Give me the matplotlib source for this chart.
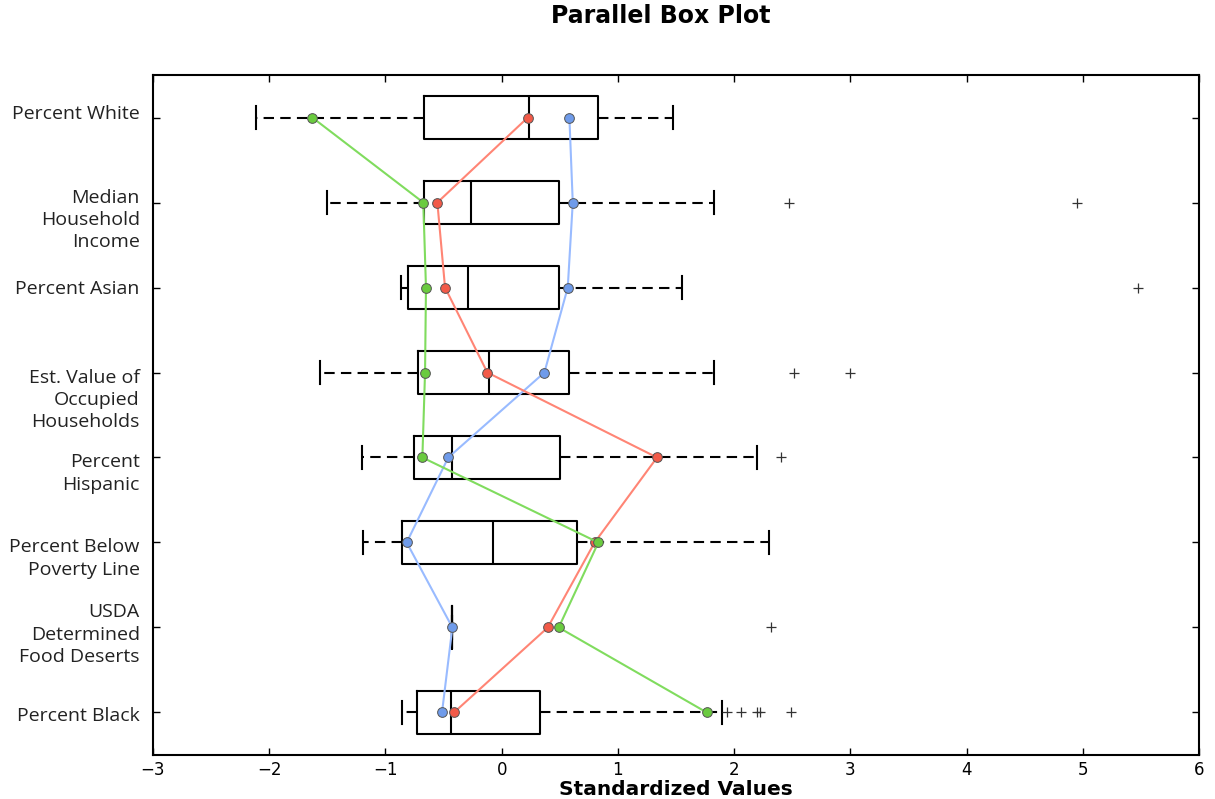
import matplotlib
matplotlib.use("Agg")
import matplotlib.pyplot as plt

# categories listed top to bottom
categories = [
    "Percent White",
    "Median\nHousehold\nIncome",
    "Percent Asian",
    "Est. Value of\nOccupied\nHouseholds",
    "Percent\nHispanic",
    "Percent Below\nPoverty Line",
    "USDA\nDetermined\nFood Deserts",
    "Percent Black",
]

# box statistics (standardized values)
whislo = [-2.116, -1.505, -0.868, -1.563, -1.199, -1.190, -0.424, -0.854]
q1 = [-0.668, -0.668, -0.803, -0.722, -0.751, -0.860, -0.424, -0.725]
med = [0.238, -0.266, -0.292, -0.106, -0.424, -0.071, -0.424, -0.435]
q3 = [0.827, 0.497, 0.491, 0.577, 0.503, 0.646, -0.424, 0.330]
whishi = [1.475, 1.828, 1.552, 1.828, 2.195, 2.300, -0.424, 1.894]
fliers = [
    [],
    [2.473, 4.950],
    [5.477],
    [2.516, 3.000],
    [2.400],
    [],
    [2.316],
    [1.937, 2.060, 2.200, 2.225, 2.490],
]

# three highlighted cases
blue_vals = [0.583, 0.612, 0.569, 0.368, -0.459, -0.817, -0.424, -0.513]
red_vals = [0.225, -0.553, -0.487, -0.123, 1.337, 0.800, 0.397, -0.410]
green_vals = [-1.629, -0.674, -0.651, -0.659, -0.682, 0.832, 0.491, 1.765]

# vertical nudge of each y label in pixels (label placement in the source is uneven)
label_dy = [-4, -5, 1, 5, 5, 5, -15, 4]

positions = list(range(1, len(categories) + 1))

fig = plt.figure(figsize=(12.15, 7.99), dpi=100)
ax = fig.add_axes([0.1259, 0.0551, 0.8609, 0.851])

stats = []
for i in range(len(categories)):
    stats.append(dict(whislo=whislo[i], q1=q1[i], med=med[i], q3=q3[i],
                      whishi=whishi[i], fliers=fliers[i]))

ax.bxp(stats, positions=positions, vert=False, widths=0.5, capwidths=0.26,
       showfliers=True, patch_artist=False,
       boxprops=dict(color="black", linewidth=1.5),
       medianprops=dict(color="black", linewidth=1.5),
       whiskerprops=dict(color="black", linewidth=1.5, linestyle=(0, (5, 3))),
       capprops=dict(color="black", linewidth=1.5),
       flierprops=dict(marker="+", markeredgecolor="#333333", markersize=7,
                       markeredgewidth=0.9, linestyle="none"),
       zorder=2)

series = [
    (blue_vals, "#99bbff", "#6f9bea"),
    (red_vals, "#ff8575", "#f25a48"),
    (green_vals, "#80dc5e", "#6acb3f"),
]
for vals, lc, mc in series:
    ax.plot(vals, positions, color=lc, linewidth=1.5, marker="o",
            markersize=7, markerfacecolor=mc, markeredgecolor="#555555",
            markeredgewidth=0.7, zorder=3)

ax.set_xlim(-3, 6)
ax.set_ylim(len(categories) + 0.5, 0.5)
ax.set_xticks(range(-3, 7))
ax.set_xticklabels([str(v).replace("-", "\u2212") for v in range(-3, 7)])
ax.set_yticks(positions)
ax.set_yticklabels([])

ax.tick_params(axis="both", direction="in", length=5, width=1,
               top=True, right=True, labelsize=12, pad=4)
for sp in ax.spines.values():
    sp.set_linewidth(1.5)

for pos, lab, dy in zip(positions, categories, label_dy):
    ax.annotate(lab, xy=(0, pos), xycoords=("axes fraction", "data"),
                xytext=(-9.5, -(dy - 9) * 0.72), textcoords="offset points",
                ha="right", va="top", multialignment="right",
                fontsize=14, family=["Open Sans", "DejaVu Sans"],
                color="#222222", linespacing=1.3)

ax.set_xlabel("Standardized Values", fontsize=14.5, fontweight="bold", labelpad=1)
fig.text(0.544, 0.98, "Parallel Box Plot", ha="center", va="center",
         fontsize=17, fontweight="bold")

fig.savefig("out.png", dpi=100)
